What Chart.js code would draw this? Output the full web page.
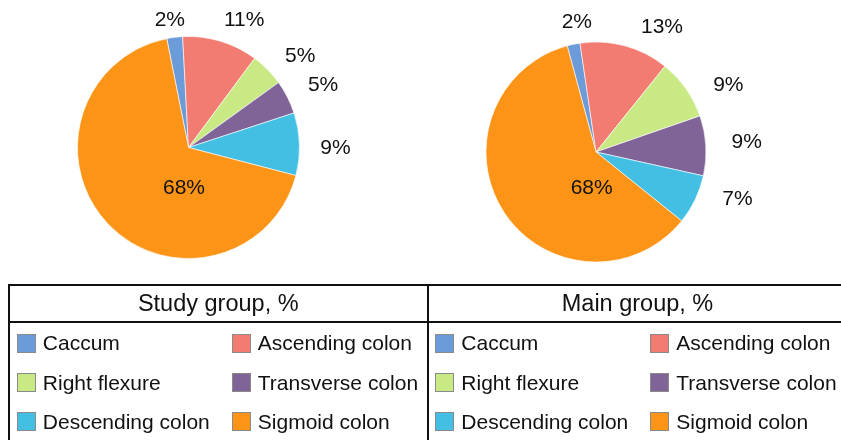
<!DOCTYPE html>
<html><head><meta charset="utf-8">
<script src="https://cdn.jsdelivr.net/npm/chart.js@4"></script>
<style>
html,body{margin:0;padding:0;background:#fff;}
body{width:841px;height:440px;position:relative;overflow:hidden;font-family:"Liberation Sans",Arial,Helvetica,sans-serif;color:#111;}
.cv{position:absolute;}
.ln{position:absolute;background:#111;}
.hdr{position:absolute;font-size:23.5px;line-height:27px;text-align:center;white-space:nowrap;}
.item{position:absolute;font-size:21px;line-height:24px;white-space:nowrap;}
.box{position:absolute;width:17px;height:17px;border:1px solid #8a8a8a;}
</style></head><body>
<div class="cv" style="left:0;top:0;width:377px;height:295px"><canvas id="c1"></canvas></div>
<div class="cv" style="left:396px;top:0;width:400px;height:304px"><canvas id="c2"></canvas></div>
<div id="legend"></div>
<script>
// ---- data ----
const categories = ['Caccum','Ascending colon','Right flexure','Transverse colon','Descending colon','Sigmoid colon'];
const studyValues = [2.3, 11.0, 4.9, 4.9, 9.1, 67.8];
const studyLabels = ['2%','11%','5%','5%','9%','68%'];
const mainValues = [1.9, 13.1, 8.9, 8.8, 7.3, 60.0];
const mainLabels = ['2%','13%','9%','9%','7%','68%'];
const groupTitles = ['Study group, %','Main group, %'];

// ---- style / layout ----
const colors = ['#6b9bd9','#f27c72','#c9e985','#806498','#44bfe4','#fc9418'];
const FONT = '"Liberation Sans", Arial, Helvetica, sans-serif';
const pieLayouts = [
  {rotation:-11.3, radius:111, shift:[-1.2,6.9,5.2,2.2,1.9,-40.3], dist:[1.157,1.249,1.302,1.335,1.324,0.365]},
  {rotation:-15.2, radius:110, shift:[3.4,12.7,8.3,-0.3,-7.2,-50], dist:[1.197,1.282,1.349,1.373,1.356,0.33]}
];

function labelPlugin(texts, lay){
  return {
    id:'pieLabels',
    afterDatasetsDraw(chart){
      const ctx = chart.ctx;
      const meta = chart.getDatasetMeta(0);
      ctx.save();
      ctx.font = '21px ' + FONT;
      ctx.fillStyle = '#111';
      ctx.textAlign = 'center';
      ctx.textBaseline = 'middle';
      meta.data.forEach((arc,i)=>{
        const p = arc.getProps(['x','y','startAngle','endAngle','outerRadius'], true);
        const a = (p.startAngle + p.endAngle)/2 + lay.shift[i]*Math.PI/180;
        const d = lay.dist[i]*p.outerRadius;
        ctx.fillText(texts[i], p.x + d*Math.cos(a), p.y + d*Math.sin(a));
      });
      ctx.restore();
    }
  };
}

function makePie(id, values, texts, lay){
  new Chart(document.getElementById(id), {
    type:'pie',
    data:{labels:categories, datasets:[{data:values, backgroundColor:colors, borderColor:'#ffffff', borderWidth:0.6}]},
    options:{
      responsive:true, maintainAspectRatio:false, animation:false,
      rotation:lay.rotation, radius:lay.radius,
      layout:{padding:0},
      plugins:{legend:{display:false}, tooltip:{enabled:false}, title:{display:false}}
    },
    plugins:[labelPlugin(texts, lay)]
  });
}
makePie('c1', studyValues, studyLabels, pieLayouts[0]);
makePie('c2', mainValues, mainLabels, pieLayouts[1]);

// ---- legend table ----
const lg = document.getElementById('legend');
function add(cls, style, text){
  const d = document.createElement('div');
  d.className = cls; Object.assign(d.style, style);
  if (text !== undefined) d.textContent = text;
  lg.appendChild(d); return d;
}
add('ln', {left:'8px', top:'284px', width:'840px', height:'2px'});
add('ln', {left:'8px', top:'321.3px', width:'840px', height:'2px'});
add('ln', {left:'8.3px', top:'284px', width:'2px', height:'160px'});
add('ln', {left:'426.5px', top:'284px', width:'2px', height:'160px'});
const cells = [{left:10, width:416.5}, {left:428.5, width:418}];
cells.forEach((c,g)=>{
  add('hdr', {left:c.left+'px', width:c.width+'px', top:'290px'}, groupTitles[g]);
  categories.forEach((name,i)=>{
    const col = i%2, row = Math.floor(i/2);
    const bx = c.left + (col ? 221.8 : 6.8);
    const base = 350.7 + row*39.2;
    add('box', {left:bx+'px', top:(base-16.7)+'px', background:colors[i]});
    add('item', {left:(bx+26)+'px', top:(base-19.27)+'px'}, name);
  });
});
</script>
</body></html>
